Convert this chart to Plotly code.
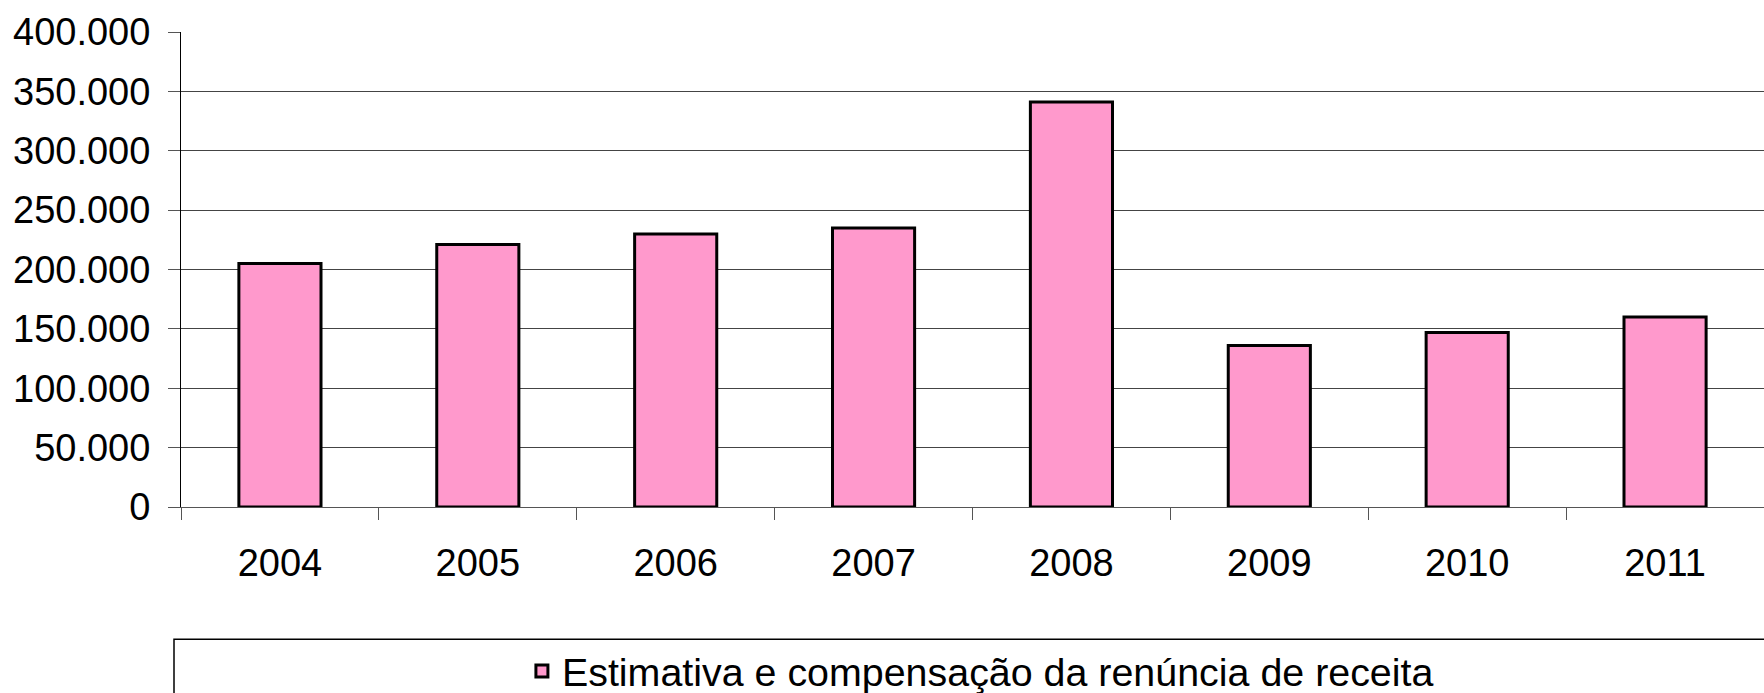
import plotly.graph_objects as go

years = ["2004", "2005", "2006", "2007", "2008", "2009", "2010", "2011"]
values = [205000, 221000, 230000, 235000, 341000, 136000, 147000, 160000]
series_name = "Estimativa e compensação da renúncia de receita"
y_ticks = [0, 50000, 100000, 150000, 200000, 250000, 300000, 350000, 400000]

W, H = 1764, 693
L, R, T, B = 181, 0, 32, 186

fig = go.Figure()
fig.add_trace(go.Bar(
    x=years, y=values, name=series_name,
    marker=dict(color="#FF99CC", line=dict(color="black", width=3)),
    showlegend=True,
))

font_family = "Liberation Sans, Arial, sans-serif"
ph = H - T - B
fig.update_layout(
    width=W, height=H,
    margin=dict(l=L, r=R, t=T, b=B, autoexpand=False),
    paper_bgcolor="white", plot_bgcolor="white",
    separators=",.",
    bargap=0.585,
    font=dict(family=font_family, size=38, color="black"),
    showlegend=True,
    legend=dict(
        orientation="h", x=0.505, xanchor="center",
        y=(506.7 - 671) / ph, yanchor="middle",
        bgcolor="rgba(0,0,0,0)", borderwidth=0,
        font=dict(size=39.4, family=font_family),
    ),
    xaxis=dict(
        type="category", tickson="boundaries", automargin=False,
        ticks="outside", ticklen=12, tickcolor="#555", tickwidth=1,
        showline=True, linecolor="#555", linewidth=1,
        showgrid=False, ticklabelstandoff=22,
        tickfont=dict(size=38, family=font_family),
    ),
    yaxis=dict(
        range=[0, 400000], tickvals=y_ticks, tickformat=",d", automargin=False,
        ticks="outside", ticklen=12, tickcolor="#555", tickwidth=1,
        showline=True, linecolor="black", linewidth=1,
        showgrid=True, gridcolor="#444", gridwidth=1,
        zeroline=False, ticklabelstandoff=10,
        tickfont=dict(size=38, family=font_family),
    ),
    shapes=[dict(
        type="rect", xref="paper", yref="paper",
        x0=(174 - L) / (W - L - R), x1=1.02,
        y0=(506.7 - 639) / ph, y1=(506.7 - 720) / ph,
        line=dict(color="black", width=1.5), fillcolor="rgba(0,0,0,0)",
        layer="below",
    )],
)

fig.write_html("out.html", config={"displayModeBar": False},
               post_script="document.body.style.margin='0';")
